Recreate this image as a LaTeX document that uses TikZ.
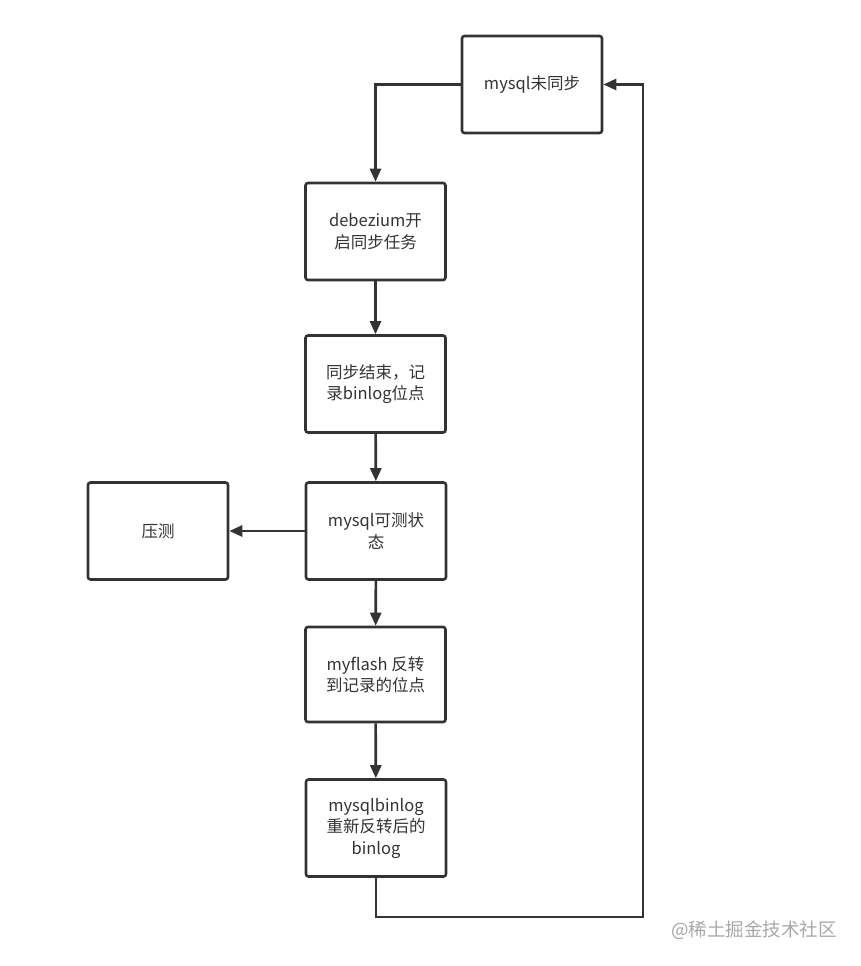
\documentclass[tikz,border=0pt]{standalone}
\usepackage{fontspec}
\setmainfont{Noto Sans CJK SC}
\usetikzlibrary{arrows.meta}
\definecolor{ln}{HTML}{333333}
\definecolor{tx}{HTML}{333333}
\definecolor{wm}{HTML}{A8A8A8}
\tikzset{
  box/.style={draw=ln, line width=2.6pt, rounded corners=2.5pt, minimum width=140pt, minimum height=97pt, align=center, text=tx, font=\fontsize{16.5pt}{21.5pt}\selectfont, inner sep=2pt},
  conn/.style={draw=ln, line width=2.6pt, -{Triangle[length=13pt,width=11pt]}},
  plain/.style={draw=ln, line width=2.6pt}
}
\begin{document}
\begin{tikzpicture}[x=1pt,y=-1pt]
\useasboundingbox (0,0) rectangle (860,966);
\node[box] (a) at (532,84.5) {mysql未同步};
\node[box] (b) at (375.5,231.5) {debezium开\\启同步任务};
\node[box] (c) at (375.5,384) {同步结束，记\\录binlog位点};
\node[box] (d) at (376,531) {mysql可测状\\态};
\node[box] (e) at (158,531) {压测};
\node[box, minimum height=95pt] (f) at (375.5,674.5) {myflash 反转\\到记录的位点};
\node[box] (g) at (376,828) {mysqlbinlog\\重新反转后的\\binlog};
\coordinate (c1) at (375.5,84.5);
\coordinate (c2) at (376,917);
\coordinate (c3) at (643,917);
\coordinate (c4) at (643,84.5);
\draw[conn] (a.west) -- (c1) -- (b.north);
\draw[conn] (b) -- (c);
\draw[conn] (c) -- (d);
\draw[conn] (d) -- (e);
\draw[conn] (d) -- (f);
\draw[conn] (f) -- (g);
\draw[conn] (g.south) -- (c2) -- (c3) -- (c4) -- (a.east);
\node[text=wm, font=\fontsize{18.5pt}{20pt}\selectfont, anchor=west, inner sep=0pt] (w) at (671,930) {@稀土掘金技术社区};
\end{tikzpicture}
\end{document}
